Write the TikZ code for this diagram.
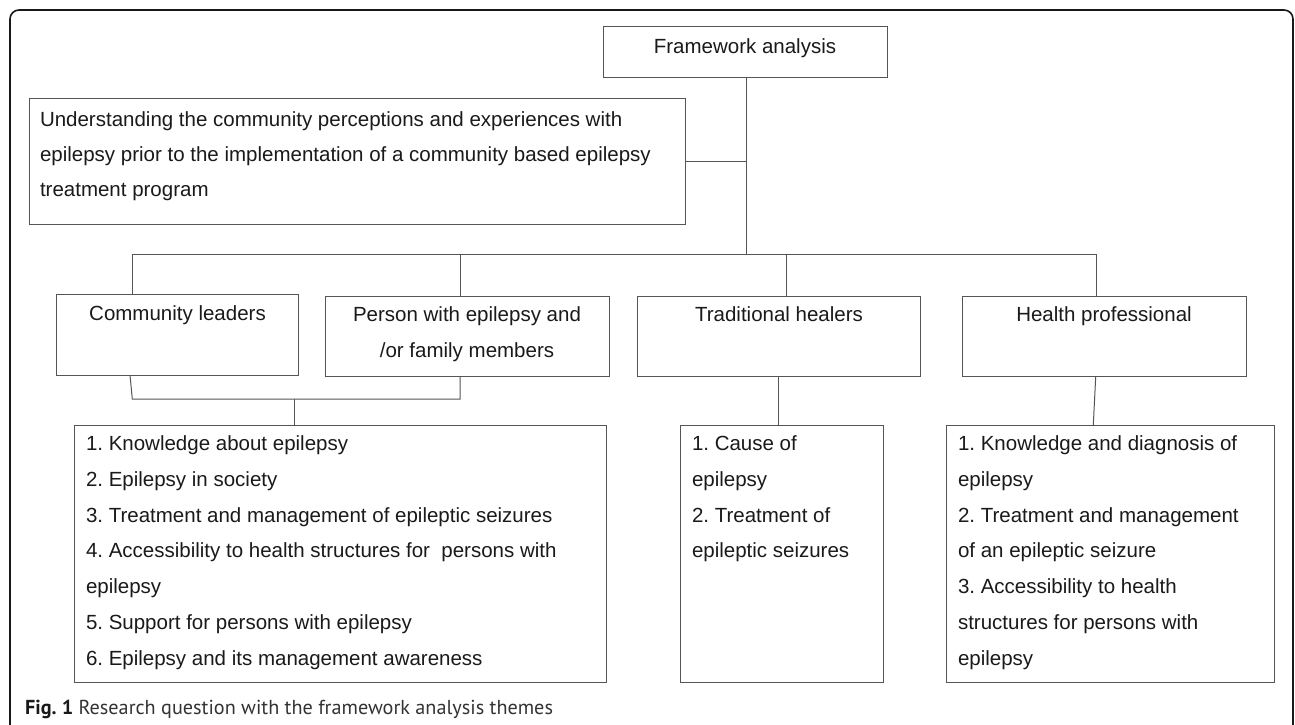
\documentclass[tikz,border=0pt]{standalone}
\usepackage{fontspec}
\setmainfont{Liberation Sans}
\newfontfamily\capfamily{PT Sans}
\frenchspacing
\newcommand\dfont{\fontsize{20.5}{35.8}\selectfont}
\newcommand\ufont{\fontsize{20.5}{35}\selectfont}
\definecolor{lineg}{HTML}{555555}
\definecolor{txt}{HTML}{1A1A1A}
\definecolor{capg}{HTML}{333333}
\begin{document}
\begin{tikzpicture}[x=1pt,y=-1pt,
  box/.style={draw=lineg, line width=1pt, rectangle, inner sep=0pt, outer sep=0pt, anchor=north west},
  conn/.style={draw=lineg, line width=1pt},
  lbl/.style={inner sep=0pt, outer sep=0pt, text=txt, font=\dfont},
  ulbl/.style={inner sep=0pt, outer sep=0pt, text=txt, font=\ufont}]
\clip (0,0) rectangle (1295,725);
\fill[white] (0,0) rectangle (1295,725);
% outer frame
\draw[line width=1.6pt, draw=black!90, rounded corners=9pt] (10,10) rectangle (1293,760);

% boxes
\node[box, minimum width=284, minimum height=50.3] (fa) at (603,27) {};
\node[box, minimum width=656, minimum height=126] (und) at (29.5,98) {};
\node[box, minimum width=242.7, minimum height=80.5] (cl) at (56,294.5) {};
\node[box, minimum width=284, minimum height=80.7] (pe) at (325,296) {};
\node[box, minimum width=283.2, minimum height=80.7] (th) at (637.5,296) {};
\node[box, minimum width=283.3, minimum height=80.7] (hp) at (962.7,296) {};
\node[box, minimum width=532.7, minimum height=257.7] (la) at (74,425) {};
\node[box, minimum width=203.3, minimum height=257.7] (lb) at (680,425) {};
\node[box, minimum width=328.3, minimum height=257.7] (lc) at (946,425) {};

% texts
\node[lbl, anchor=base] (fat) at (745,53.5) {Framework analysis};
\node[ulbl, anchor=north west, align=left] (undt) at (40,101.5) {\strut Understanding the community perceptions and experiences with\\
\strut epilepsy prior to the implementation of a community based epilepsy\\
\strut treatment program};
\node[lbl, anchor=base] (clt) at (177.5,320) {Community leaders};
\node[lbl, anchor=north, align=center] (pet) at (467,296.6) {\strut Person with epilepsy and\\ \strut /or family members};
\node[lbl, anchor=base] (tht) at (779,321.7) {Traditional healers};
\node[lbl, anchor=base] (hpt) at (1104,321.7) {Health professional};
\node[lbl, anchor=north west, align=left] (lat) at (86,425.4) {\strut 1. Knowledge about epilepsy\\
\strut 2. Epilepsy in society\\
\strut 3. Treatment and management of epileptic seizures\\
\strut 4. Accessibility to health structures for\ \ persons with\\
\strut epilepsy\\
\strut 5. Support for persons with epilepsy\\
\strut 6. Epilepsy and its management awareness};
\node[lbl, anchor=north west, align=left] (lbt) at (692,425.4) {\strut 1. Cause of\\
\strut epilepsy\\
\strut 2. Treatment of\\
\strut epileptic seizures};
\node[lbl, anchor=north west, align=left] (lct) at (958,425.4) {\strut 1. Knowledge and diagnosis of\\
\strut epilepsy\\
\strut 2. Treatment and management\\
\strut of an epileptic seizure\\
\strut 3. Accessibility to health\\
\strut structures for persons with\\
\strut epilepsy};

% caption
\node[inner sep=0pt, anchor=base west, text=capg, font=\capfamily\fontsize{20.2}{24}\selectfont] (cap) at (25,714) {\textbf{\color{black!90}Fig. 1} Research question with the framework analysis themes};

% junction coordinates
\coordinate (trunk) at (746,254);
\coordinate (jcl) at (132,254);
\coordinate (jpe) at (460,254);
\coordinate (jth) at (786,254);
\coordinate (jhp) at (1096,254);
\coordinate (bcl) at (130,375);
\coordinate (bk1) at (132.3,399);
\coordinate (bk2) at (460,399);
\coordinate (bmid) at (294,399);

% connectors
\draw[conn] (fa.south -| trunk) -- (trunk);
\draw[conn] (und.east) -- (und.east -| trunk);
\draw[conn] (jcl) -- (jhp);
\draw[conn] (jcl) -- (jcl |- cl.north);
\draw[conn] (jpe) -- (jpe |- pe.north);
\draw[conn] (jth) -- (jth |- th.north);
\draw[conn] (jhp) -- (jhp |- hp.north);
\draw[conn] (bcl |- cl.south) -- (bk1) -- (bk2) -- (bk2 |- pe.south);
\draw[conn] (bmid) -- (bmid |- la.north);
\draw[conn] (th.south -| 778,0) -- (lb.north -| 778,0);
\draw[conn] (hp.south -| 1095.7,0) -- (lc.north -| 1093.3,0);
\end{tikzpicture}
\end{document}
